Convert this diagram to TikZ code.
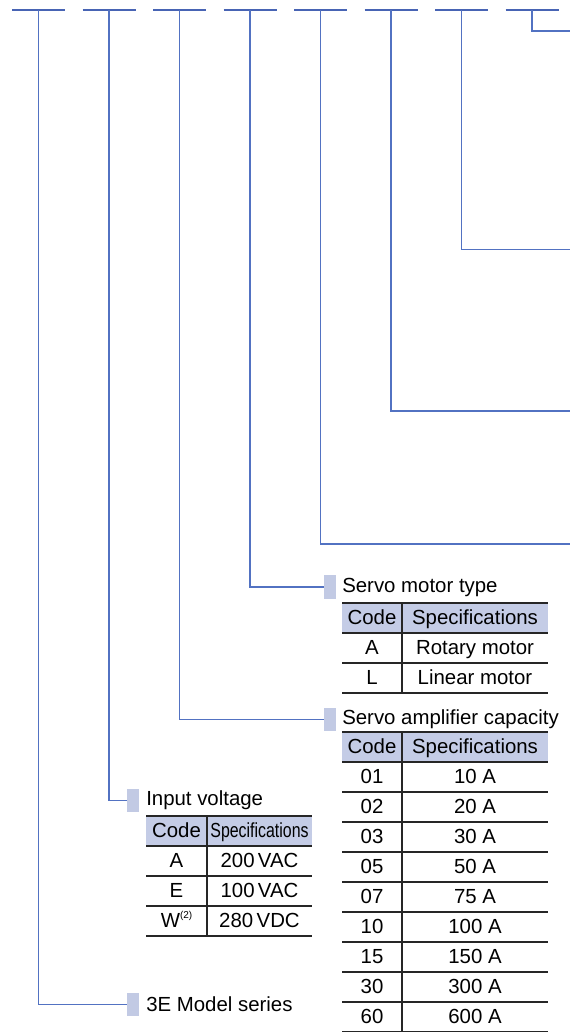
\documentclass[tikz,border=0pt]{standalone}
\usepackage{fontspec}
\setmainfont{Liberation Sans}
\definecolor{lineblue}{HTML}{5272C2}
\definecolor{dashblue}{HTML}{4864B4}
\definecolor{boxblue}{HTML}{C2CAE4}
\definecolor{headblue}{HTML}{C4CCE6}
\begin{document}
\begin{tikzpicture}[x=0.75pt,y=-0.75pt,
  font=\fontsize{15.3}{18}\selectfont,
  dashline/.style={dashblue, line width=1.6pt},
  conn/.style={lineblue, line width=0.8pt},
  marker/.style={fill=boxblue, draw=none, inner sep=0, minimum width=9pt, minimum height=17.5pt},
  title/.style={anchor=west, inner sep=0},
  cell/.style={inner sep=0, text height=0.72em, text depth=0pt, yshift=-1.5pt},
  rule/.style={black!85, line width=0.8pt}]
\useasboundingbox (0,0) rectangle (570,1032);

% code dashes
\foreach \i in {0,...,7}{
  \draw[dashline] ({12+70.5*\i},10) -- ({65+70.5*\i},10);
  \coordinate (d\i) at ({38.5+70.5*\i},10);
}
\coordinate (e7) at (570,31);
\coordinate (e6) at (570,249.5);
\coordinate (e5) at (570,411);
\coordinate (e4) at (570,544);

% markers and titles
\node[marker] (mmotor) at (330,587) {};
\node[title] (tmotor) at (342,587) {Servo motor type};
\node[marker] (mamp) at (330,719.5) {};
\node[title] (tamp) at (342,719.5) {Servo amplifier capacity};
\node[marker] (mvolt) at (133,800.5) {};
\node[title] (tvolt) at (146,800.5) {Input voltage};
\node[marker] (mser) at (133,1004.5) {};
\node[title] (tser) at (146,1004.5) {3E Model series};

% connectors
\draw[conn] (d7) |- (e7);
\draw[conn] (d6) |- (e6);
\draw[conn] (d5) |- (e5);
\draw[conn] (d4) |- (e4);
\draw[conn] (d3) |- (mmotor.west);
\draw[conn] (d2) |- (mamp.west);
\draw[conn] (d1) |- (mvolt.west);
\draw[conn] (d0) |- (mser.west);

% Servo motor type table
\fill[headblue] (342,603) rectangle (548,633);
\foreach \y in {603,633,663,693} \draw[rule] (342,\y) -- (548,\y);
\draw[rule] (402,603) -- (402,693);
\node[cell] (mc0) at (372,618) {Code};
\node[cell] (ms0) at (475,618) {Specifications};
\node[cell] (mc1) at (372,648) {A};
\node[cell] (ms1) at (475,648) {Rotary motor};
\node[cell] (mc2) at (372,678) {L};
\node[cell] (ms2) at (475,678) {Linear motor};

% Servo amplifier capacity table
\fill[headblue] (342,732) rectangle (548,762);
\foreach \y in {732,762,...,1032} \draw[rule] (342,\y) -- (548,\y);
\draw[rule] (402,732) -- (402,1032);
\node[cell] (ac0) at (372,747) {Code};
\node[cell] (as0) at (475,747) {Specifications};
\foreach \c/\s [count=\k] in {01/10 A,02/20 A,03/30 A,05/50 A,07/75 A,10/100 A,15/150 A,30/300 A,60/600 A}{
  \node[cell] (ac\k) at (372,{747+30*\k}) {\c};
  \node[cell] (as\k) at (475,{747+30*\k}) {\s};
}

% Input voltage table
\fill[headblue] (146,816) rectangle (312,846);
\foreach \y in {816,846,876,906,936} \draw[rule] (146,\y) -- (312,\y);
\draw[rule] (207,816) -- (207,936);
\node[cell] (vc0) at (176.5,831) {Code};
\node[cell] (vs0) at (259.5,831) {\scalebox{0.78}[1]{Specifications}};
\node[cell] (vc1) at (176.5,861) {A};
\node[cell] (vs1) at (259.5,861) {200\,VAC};
\node[cell] (vc2) at (176.5,891) {E};
\node[cell] (vs2) at (259.5,891) {100\,VAC};
\node[cell] (vc3) at (176.5,921) {W\raisebox{0.45em}{\fontsize{7.5}{8}\selectfont(2)}};
\node[cell] (vs3) at (259.5,921) {280\,VDC};
\end{tikzpicture}
\end{document}
